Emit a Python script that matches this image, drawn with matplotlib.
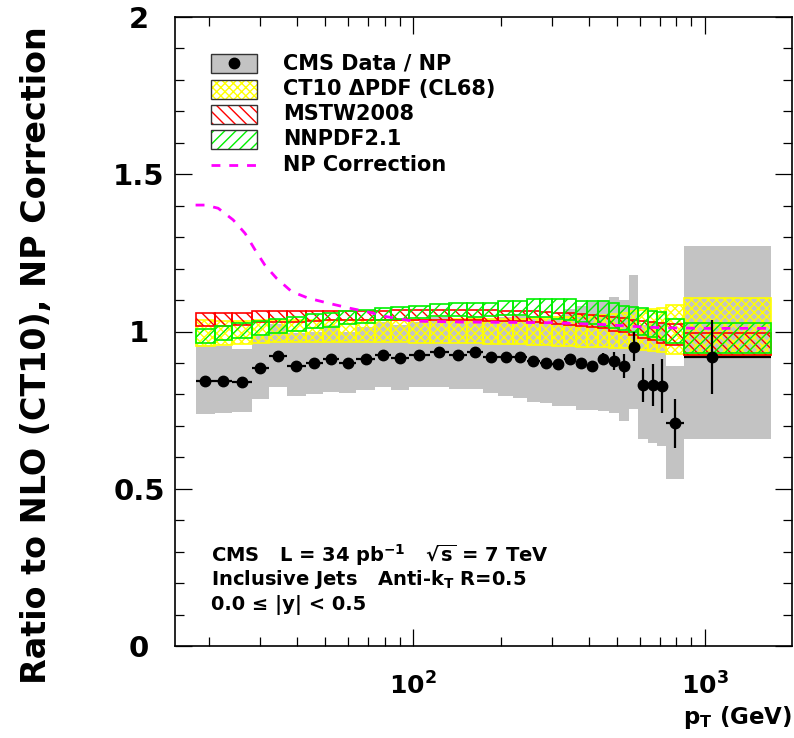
import numpy as np
import matplotlib
matplotlib.use('Agg')
import matplotlib.pyplot as plt
from matplotlib.patches import Rectangle
from matplotlib.lines import Line2D
from matplotlib.ticker import MultipleLocator, LogLocator, NullFormatter, FixedLocator

plt.rcParams['font.family'] = ['DejaVu Sans']
plt.rcParams['font.weight'] = 'bold'
plt.rcParams['mathtext.fontset'] = 'dejavusans'
plt.rcParams['mathtext.default'] = 'bf'
plt.rcParams['hatch.linewidth'] = 1.0

# ---------------- data ----------------
bin_edges = [18, 21, 24, 28, 32, 37, 43, 49, 56, 64, 74, 84, 97, 114, 133, 153, 174,
             196, 220, 245, 272, 300, 330, 362, 395, 430, 468, 507, 548, 592, 638,
             686, 737, 846, 1684]

pt_points = [19.4, 22.4, 25.9, 29.9, 34.4, 39.9, 45.9, 52.4, 59.9, 68.8, 78.8, 90.3,
             105, 123, 143, 163, 185, 208, 232, 258, 286, 315, 346, 378, 412, 449,
             487, 527, 570, 615, 662, 711, 790, 1057]

data_ratio = [0.843, 0.843, 0.840, 0.883, 0.922, 0.891, 0.899, 0.913, 0.901, 0.913,
              0.924, 0.915, 0.925, 0.934, 0.925, 0.935, 0.920, 0.918, 0.918, 0.907,
              0.899, 0.896, 0.913, 0.901, 0.890, 0.912, 0.906, 0.890, 0.952, 0.830,
              0.830, 0.827, 0.708, 0.920]

stat_err = [0.004, 0.004, 0.004, 0.004, 0.004, 0.004, 0.004, 0.004, 0.004, 0.004,
            0.004, 0.004, 0.004, 0.004, 0.005, 0.005, 0.005, 0.005, 0.006, 0.006,
            0.007, 0.008, 0.009, 0.010, 0.012, 0.020, 0.030, 0.037, 0.045, 0.055,
            0.068, 0.087, 0.078, 0.118]

syst_lo = [0.737, 0.740, 0.743, 0.784, 0.823, 0.795, 0.801, 0.809, 0.805, 0.814,
           0.823, 0.814, 0.823, 0.825, 0.816, 0.816, 0.803, 0.795, 0.788, 0.777,
           0.772, 0.763, 0.762, 0.750, 0.750, 0.748, 0.740, 0.716, 0.753, 0.657,
           0.647, 0.636, 0.530, 0.657]
syst_hi = [0.957, 0.953, 0.944, 0.985, 1.025, 0.995, 1.000, 1.020, 1.000, 1.015,
           1.030, 1.020, 1.030, 1.045, 1.040, 1.050, 1.040, 1.045, 1.050, 1.050,
           1.040, 1.050, 1.070, 1.080, 1.095, 1.100, 1.110, 1.100, 1.180, 1.020,
           1.030, 1.030, 0.890, 1.272]

ct10_lo = [0.955, 0.958, 0.960, 0.962, 0.966, 0.968, 0.968, 0.968, 0.968, 0.968,
           0.966, 0.966, 0.965, 0.963, 0.962, 0.962, 0.961, 0.960, 0.959, 0.958,
           0.957, 0.955, 0.953, 0.951, 0.950, 0.950, 0.948, 0.946, 0.944, 0.941,
           0.938, 0.935, 0.930, 0.925]
ct10_hi = [1.035, 1.033, 1.033, 1.035, 1.036, 1.036, 1.037, 1.037, 1.037, 1.037,
           1.038, 1.038, 1.038, 1.038, 1.039, 1.039, 1.040, 1.040, 1.041, 1.042,
           1.043, 1.045, 1.047, 1.049, 1.052, 1.054, 1.057, 1.060, 1.064, 1.068,
           1.072, 1.076, 1.084, 1.106]

mstw_lo = [1.018, 1.018, 1.020, 1.030, 1.030, 1.030, 1.032, 1.035, 1.035, 1.035,
           1.035, 1.035, 1.036, 1.036, 1.036, 1.035, 1.034, 1.033, 1.032, 1.030,
           1.028, 1.025, 1.022, 1.018, 1.014, 1.010, 1.003, 0.998, 0.990, 0.980,
           0.972, 0.965, 0.957, 0.925]
mstw_hi = [1.060, 1.058, 1.058, 1.066, 1.066, 1.066, 1.066, 1.066, 1.066, 1.066,
           1.066, 1.067, 1.068, 1.068, 1.068, 1.068, 1.067, 1.066, 1.065, 1.064,
           1.062, 1.060, 1.058, 1.055, 1.052, 1.050, 1.046, 1.042, 1.038, 1.034,
           1.031, 1.028, 1.025, 0.996]

nnpdf_lo = [0.962, 0.973, 0.978, 0.989, 0.996, 1.003, 1.010, 1.015, 1.023, 1.026,
            1.037, 1.040, 1.042, 1.049, 1.049, 1.047, 1.049, 1.052, 1.052, 1.047,
            1.045, 1.039, 1.036, 1.031, 1.024, 1.017, 1.012, 1.005, 0.999, 0.989,
            0.981, 0.973, 0.962, 0.931]
nnpdf_hi = [1.008, 1.017, 1.026, 1.033, 1.039, 1.047, 1.056, 1.060, 1.065, 1.068,
            1.074, 1.079, 1.082, 1.087, 1.090, 1.090, 1.090, 1.098, 1.098, 1.102,
            1.102, 1.102, 1.102, 1.098, 1.098, 1.096, 1.090, 1.082, 1.078, 1.074,
            1.066, 1.061, 1.040, 1.026]

np_pt = [18, 19.4, 21.5, 24.2, 26.6, 28.8, 31.1, 34.1, 38.4, 43.8, 51.3, 60.8,
         69.4, 81.3, 100, 148, 300, 450, 600, 700, 1000, 1684]
np_corr = [1.402, 1.402, 1.392, 1.355, 1.312, 1.259, 1.211, 1.169, 1.127, 1.106,
           1.090, 1.074, 1.063, 1.047, 1.033, 1.030, 1.028, 1.022, 1.015, 1.012,
           1.010, 1.010]

legend_labels = ['CMS Data / NP', 'CT10 \u0394PDF (CL68)', 'MSTW2008', 'NNPDF2.1',
                 'NP Correction']
info_lines = ['CMS   L = 34 pb$^{-1}$   $\\sqrt{s}$ = 7 TeV',
              'Inclusive Jets   Anti-k$_{T}$ R=0.5',
              '0.0 \u2264 |y| < 0.5']
y_ticks = [0, 0.5, 1, 1.5, 2]
y_tick_labels = ['0', '0.5', '1', '1.5', '2']
x_ticks = [100, 1000]
x_tick_labels = ['$\\mathbf{10^{2}}$', '$\\mathbf{10^{3}}$']

# ---------------- colours ----------------
GRAY = '#c3c3c3'
YELLOW = '#ffff00'
RED = '#ff0000'
GREEN = '#00f000'
MAGENTA = '#ff00ff'

W, H = 794, 738
fig = plt.figure(figsize=(W / 100, H / 100), dpi=100)
ax_l, ax_r, ax_t, ax_b = 175, 792, 17, 646
ax = fig.add_axes([ax_l / W, 1 - ax_b / H, (ax_r - ax_l) / W, (ax_b - ax_t) / H])
ax.set_xscale('log')

edges = np.array(bin_edges, dtype=float)
lo_e = edges[:-1]
hi_e = edges[1:]
wid = hi_e - lo_e

def band(lo, hi, **kw):
    lo = np.array(lo); hi = np.array(hi)
    ax.bar(lo_e, hi - lo, bottom=lo, width=wid, align='edge', **kw)

band(syst_lo, syst_hi, color=GRAY, linewidth=0, zorder=1)
band(ct10_lo, ct10_hi, facecolor='none', edgecolor=YELLOW, hatch='xxxx',
     linewidth=1.2, zorder=2)
band(mstw_lo, mstw_hi, facecolor='none', edgecolor=RED, hatch='\\\\\\',
     linewidth=1.2, zorder=3)
band(nnpdf_lo, nnpdf_hi, facecolor='none', edgecolor=GREEN, hatch='///',
     linewidth=1.2, zorder=4)

NP_LS = (0, (3.2, 3.2))
ax.plot(np_pt, np_corr, color=MAGENTA, lw=2.0, ls=NP_LS, zorder=5)

pt = np.array(pt_points)
ax.errorbar(pt, data_ratio, yerr=stat_err, xerr=[pt - lo_e, hi_e - pt], fmt='o',
            color='black', ms=7.5, elinewidth=1.6, capsize=0, zorder=6)

ax.set_xlim(15.3, 1990)
ax.set_ylim(0, 2)

# ticks
ax.set_yticks(y_ticks)
ax.set_yticklabels(y_tick_labels, fontsize=21, fontweight='bold')
for lab in ax.get_yticklabels():
    lab.set_horizontalalignment('center')
ax.yaxis.set_minor_locator(MultipleLocator(0.1))
ax.xaxis.set_major_locator(FixedLocator(x_ticks))
ax.set_xticklabels(x_tick_labels, fontsize=18)
ax.xaxis.set_minor_locator(LogLocator(base=10, subs=np.arange(2, 10)))
ax.xaxis.set_minor_formatter(NullFormatter())
ax.tick_params(which='both', direction='in', top=True, right=True, width=0.9,
               colors='black')
ax.tick_params(which='major', length=12.5)
ax.tick_params(which='minor', length=6.5)
ax.tick_params(axis='y', which='major', pad=26)
ax.tick_params(axis='x', which='major', pad=19)
for s in ax.spines.values():
    s.set_linewidth(1.2)

ax.set_xlabel('$\\mathbf{p_{T}}$ (GeV)', fontsize=16.5, fontweight='bold', loc='right',
              labelpad=3)
fig.text(37 / W, 1 - 26 / H, 'Ratio to NLO (CT10), NP Correction', rotation=90,
         ha='center', va='top', fontsize=24, fontweight='bold')

# legend (drawn manually in axes coordinates)
row_y = [0.9264, 0.8855, 0.8453, 0.8056, 0.7647]
bx, bw, bh = 0.0579, 0.0755, 0.0302
tx = 0.175
styles = [dict(facecolor=GRAY), dict(facecolor='none', hatch='xxxx', edgecolor=YELLOW),
          dict(facecolor='none', hatch='\\\\\\', edgecolor=RED),
          dict(facecolor='none', hatch='///', edgecolor=GREEN)]
for i, lab in enumerate(legend_labels):
    y = row_y[i]
    if i < 4:
        st = styles[i]
        if 'hatch' in st:
            ax.add_patch(Rectangle((bx, y - bh / 2), bw, bh, transform=ax.transAxes,
                                   facecolor='white', edgecolor=st['edgecolor'],
                                   hatch=st['hatch'], linewidth=0, zorder=7))
            ax.add_patch(Rectangle((bx, y - bh / 2), bw, bh, transform=ax.transAxes,
                                   facecolor='none', edgecolor='#333333', linewidth=1.0,
                                   zorder=8))
        else:
            ax.add_patch(Rectangle((bx, y - bh / 2), bw, bh, transform=ax.transAxes,
                                   facecolor=GRAY, edgecolor='#333333', linewidth=1.0,
                                   zorder=7))
            ax.add_line(Line2D([bx + bw / 2], [y], transform=ax.transAxes, marker='o',
                               color='black', ms=7.5, zorder=9))
    else:
        ax.add_line(Line2D([bx, bx + bw], [y, y], transform=ax.transAxes,
                           color=MAGENTA, lw=2.0, ls=NP_LS, zorder=7))
    ax.text(tx, y, lab, transform=ax.transAxes, fontsize=15, fontweight='bold',
            ha='left', va='center', zorder=9)

info_y = [0.1447, 0.1065, 0.0652]
for y, t in zip(info_y, info_lines):
    ax.text(0.0583, y, t, transform=ax.transAxes, fontsize=14, fontweight='bold',
            ha='left', va='center', zorder=9)

fig.savefig('out.png', dpi=100)
